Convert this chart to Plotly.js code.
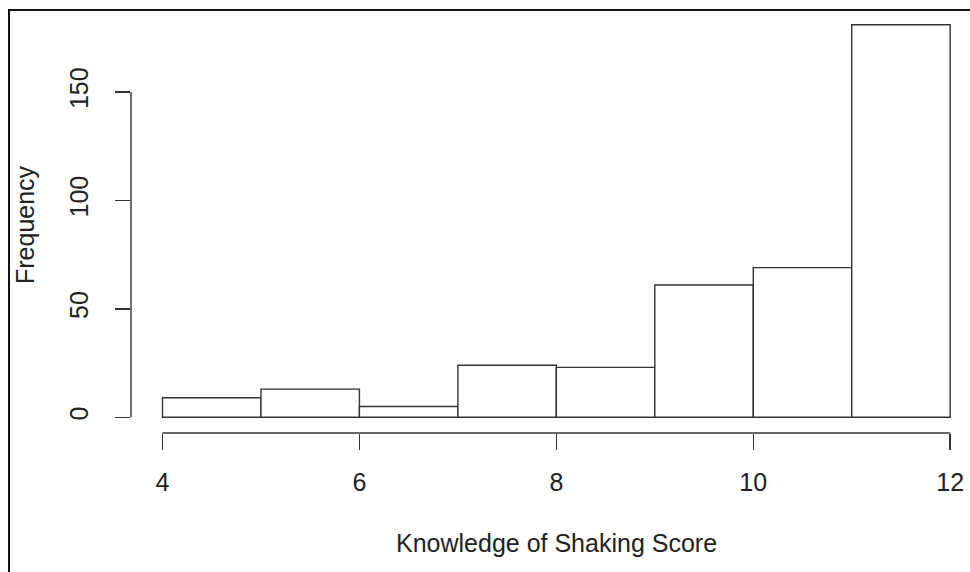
<!DOCTYPE html>
<html>
<head>
<meta charset="utf-8">
<script src="https://cdn.plot.ly/plotly-3.0.1.min.js"></script>
<style>
  html, body { margin: 0; padding: 0; background: #fff; }
  #wrap { position: relative; width: 970px; height: 572px; overflow: hidden; }
  #chart { position: absolute; left: 0; top: 0; width: 970px; height: 572px; }
  #frame { position: absolute; left: 8px; top: 9px; width: 1200px; height: 1200px;
           border-left: 2px solid #111; border-top: 2px solid #111; pointer-events: none; }
</style>
</head>
<body>
<div id="wrap">
  <div id="chart"></div>
  <div id="frame"></div>
</div>
<script>
// Histogram data
const binEdges = [4, 5, 6, 7, 8, 9, 10, 11, 12];
const counts = [9, 13, 5, 24, 23, 61, 69, 181];
const xTicks = [4, 6, 8, 10, 12];
const yTicks = [0, 50, 100, 150];
const xTitle = "Knowledge of Shaking Score";
const yTitle = "Frequency";

const mids = counts.map((_, i) => (binEdges[i] + binEdges[i + 1]) / 2);
const widths = counts.map((_, i) => binEdges[i + 1] - binEdges[i]);

const lineCol = "#333";
const textCol = "#222";
const fontFam = "Liberation Sans, Arial, Helvetica, sans-serif";
const fs = 25;

// R-style 4% padding on ranges
const xMin = binEdges[0], xMax = binEdges[binEdges.length - 1];
const xPad = (xMax - xMin) * 0.04;
const yMaxData = Math.max(...counts);
const yPad = yMaxData * 0.04;

const marg = { l: 131, r: 0, t: 9, b: 139 };
const W = 970 - marg.l - marg.r;
const H = 572 - marg.t - marg.b;
const xLo = xMin - xPad;
const pxPerUnit = 98.46;
const xHi = xLo + W / pxPerUnit;

const trace = {
  type: "bar",
  x: mids,
  y: counts,
  width: widths,
  marker: { color: "#fff", line: { color: lineCol, width: 1.4 } },
  hoverinfo: "x+y"
};

const layout = {
  width: 970, height: 572,
  margin: marg,
  paper_bgcolor: "#fff",
  plot_bgcolor: "#fff",
  showlegend: false,
  bargap: 0,
  font: { family: fontFam, size: fs, color: textCol },
  xaxis: {
    range: [xLo, xHi],
    showgrid: false, zeroline: false, showline: false,
    tickmode: "array", tickvals: xTicks, ticktext: xTicks.map(String),
    ticks: "outside", ticklen: 16, tickwidth: 1.4, tickcolor: lineCol,
    ticklabelstandoff: 11,
    tickfont: { family: fontFam, size: fs, color: textCol },
    fixedrange: true
  },
  yaxis: {
    range: [-yPad, yMaxData + yPad],
    showgrid: false, zeroline: false, showline: false,
    tickmode: "array", tickvals: yTicks, ticktext: yTicks.map(String),
    ticks: "outside", ticklen: 15, tickwidth: 1.4, tickcolor: lineCol,
    tickangle: -90,
    ticklabelstandoff: 17,
    tickfont: { family: fontFam, size: fs, color: textCol },
    fixedrange: true
  },
  shapes: [
    { type: "line", xref: "x", yref: "paper",
      x0: xTicks[0], x1: xTicks[xTicks.length - 1], y0: 0, y1: 0,
      line: { color: lineCol, width: 1.4 } },
    { type: "line", xref: "paper", yref: "y",
      x0: 0, x1: 0, y0: yTicks[0], y1: yTicks[yTicks.length - 1],
      line: { color: lineCol, width: 1.4 } }
  ],
  annotations: [
    { text: xTitle, xref: "paper", yref: "paper",
      x: (556 - marg.l) / W, y: (marg.t + H - 543) / H,
      xanchor: "center", yanchor: "middle", showarrow: false,
      font: { family: fontFam, size: fs, color: textCol } },
    { text: yTitle, xref: "paper", yref: "paper",
      x: (25 - marg.l) / W, y: (marg.t + H - 224) / H,
      xanchor: "center", yanchor: "middle", textangle: -90, showarrow: false,
      font: { family: fontFam, size: fs, color: textCol } }
  ]
};

Plotly.newPlot("chart", [trace], layout, { staticPlot: true, displayModeBar: false });
</script>
</body>
</html>
